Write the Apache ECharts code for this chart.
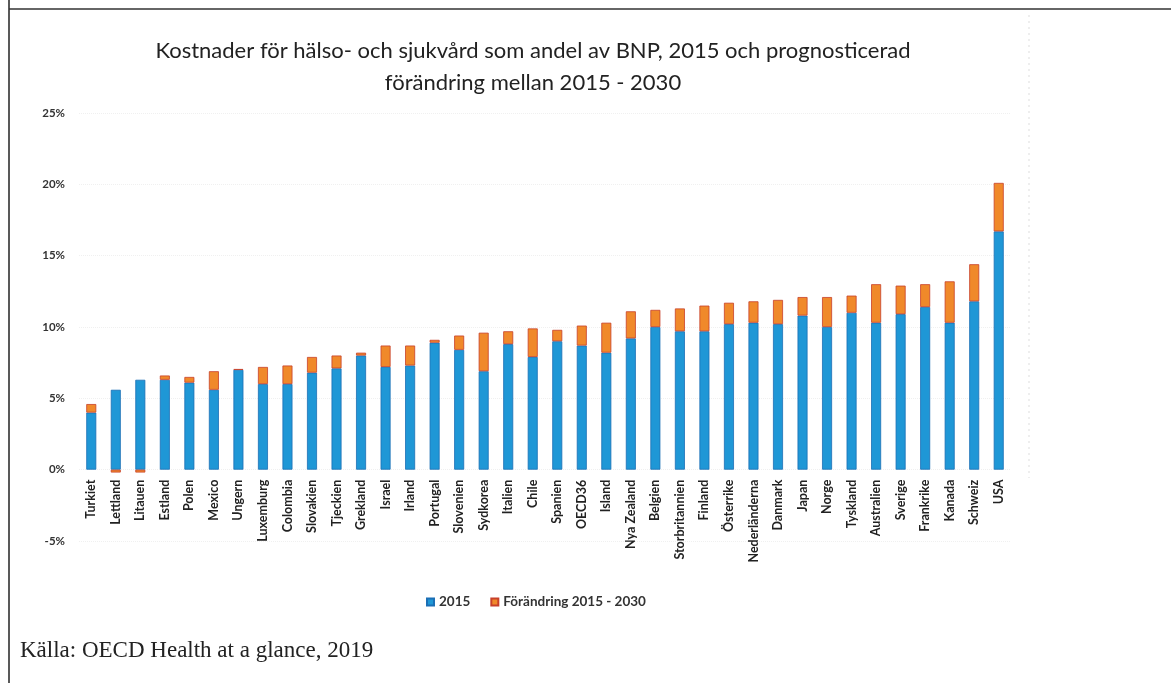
<!DOCTYPE html>
<html>
<head>
<meta charset="utf-8">
<script src="https://cdn.jsdelivr.net/npm/echarts@6/dist/echarts.min.js"></script>
<style>
html,body{margin:0;padding:0;background:#fff;}
#chart{width:1171px;height:683px;}
</style>
</head>
<body>
<div id="chart"></div>
<script>
var categories = ['Turkiet','Lettland','Litauen','Estland','Polen','Mexico','Ungern','Luxemburg','Colombia','Slovakien','Tjeckien','Grekland','Israel','Irland','Portugal','Slovenien','Sydkorea','Italien','Chile','Spanien','OECD36','Island','Nya Zealand','Belgien','Storbritannien','Finland','Österrike','Nederländerna','Danmark','Japan','Norge','Tyskland','Australien','Sverige','Frankrike','Kanada','Schweiz','USA'];
var values2015 = [4.0, 5.6, 6.3, 6.3, 6.1, 5.6, 7.0, 6.0, 6.0, 6.8, 7.1, 8.0, 7.2, 7.3, 8.9, 8.4, 6.9, 8.8, 7.9, 9.0, 8.7, 8.2, 9.2, 10.0, 9.7, 9.7, 10.2, 10.3, 10.2, 10.8, 10.0, 11.0, 10.3, 10.9, 11.4, 10.3, 11.8, 16.7];
var valuesChange = [0.6, -0.2, -0.2, 0.3, 0.4, 1.3, 0.05, 1.2, 1.3, 1.1, 0.9, 0.2, 1.5, 1.4, 0.2, 1.0, 2.7, 0.9, 2.0, 0.8, 1.4, 2.1, 1.9, 1.2, 1.6, 1.8, 1.5, 1.5, 1.7, 1.3, 2.1, 1.2, 2.7, 2.0, 1.6, 2.9, 2.6, 3.4];
var yTicks = {min: -5, max: 25, interval: 5};
var seriesNames = ['2015', 'Förändring 2015 - 2030'];

var gridTop = 113, gridHeight = 428;
var zeroOffset = -gridHeight * (0 - yTicks.min) / (yTicks.max - yTicks.min);

var chart = echarts.init(document.getElementById('chart'), null, {renderer: 'canvas'});
chart.setOption({
  backgroundColor: '#ffffff',
  animation: false,
  title: {
    text: 'Kostnader för hälso- och sjukvård som andel av BNP, 2015 och prognosticerad\nförändring mellan 2015 - 2030',
    left: 528,
    top: 30,
    textAlign: 'center',
    textStyle: {fontFamily: 'Lato', fontWeight: 'normal', fontSize: 22, color: '#222', lineHeight: 32}
  },
  legend: {
    data: seriesNames,
    left: 421,
    top: 590,
    itemWidth: 7,
    itemHeight: 7,
    itemGap: 20,
    icon: 'rect',
    textStyle: {fontFamily: 'Lato', fontWeight: 'bold', fontSize: 13.5, color: '#333'}
  },
  grid: {left: 79, right: 160, top: gridTop, height: gridHeight, containLabel: false},
  xAxis: {
    type: 'category',
    data: categories,
    offset: zeroOffset,
    axisLine: {show: false, onZero: false},
    axisTick: {show: false},
    axisLabel: {rotate: 90, interval: 0, margin: 10, fontFamily: 'Lato', fontWeight: 'bold', fontSize: 12.5, color: '#222'}
  },
  yAxis: {
    type: 'value',
    min: yTicks.min,
    max: yTicks.max,
    interval: yTicks.interval,
    axisLine: {show: false},
    axisTick: {show: false},
    splitLine: {show: true, lineStyle: {color: '#f0f0f0', type: 'dotted', width: 1}},
    axisLabel: {formatter: '{value}%', margin: 14, fontFamily: 'Lato', fontWeight: 'bold', fontSize: 11.5, color: '#333'}
  },
  series: [
    {
      name: seriesNames[0],
      type: 'bar',
      stack: 'total',
      barWidth: 10,
      data: values2015,
      itemStyle: {color: '#1f97d6', borderColor: '#1b6fb5', borderWidth: 0.8}
    },
    {
      name: seriesNames[1],
      type: 'bar',
      stack: 'total',
      barWidth: 10,
      data: valuesChange,
      itemStyle: {color: '#f0892a', borderColor: '#c8402a', borderWidth: 0.8}
    }
  ],
  graphic: [
    {type: 'line', shape: {x1: 9, y1: 0, x2: 9, y2: 683}, style: {stroke: '#222', lineWidth: 1.5}},
    {type: 'line', shape: {x1: 9, y1: 9, x2: 1171, y2: 9}, style: {stroke: '#333', lineWidth: 1.5}},
    {type: 'line', shape: {x1: 1029, y1: 15, x2: 1029, y2: 478}, style: {stroke: '#dddddd', lineWidth: 1, lineDash: [2, 4]}},
    {type: 'text', left: 20, top: 639, style: {text: 'Källa: OECD Health at a glance, 2019', fontFamily: 'Liberation Serif', fontSize: 23, fill: '#222'}}
  ]
});
</script>
</body>
</html>
